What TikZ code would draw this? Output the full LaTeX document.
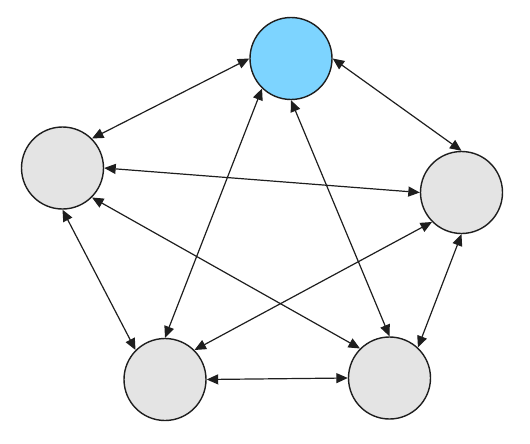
\documentclass[tikz,border=0pt]{standalone}
\usetikzlibrary{arrows.meta}
\definecolor{skyfill}{RGB}{125,212,255}
\definecolor{grayfill}{RGB}{228,228,228}
\definecolor{edgecol}{RGB}{30,30,30}
\begin{document}
\begin{tikzpicture}[x=1pt,y=-1pt,
  vert/.style={circle,draw=edgecol,line width=1.4pt,minimum size=82pt,inner sep=0pt,fill=grayfill},
  link/.style={draw=edgecol,line width=1.2pt,{Triangle[length=11.5pt,width=10pt]}-{Triangle[length=11.5pt,width=10pt]}}]
\useasboundingbox (0,0) rectangle (530,444);
\node[vert,fill=skyfill] (t) at (291,58.5) {};
\node[vert] (l) at (62.5,168) {};
\node[vert] (r) at (461.5,192.5) {};
\node[vert] (bl) at (165,379.5) {};
\node[vert] (br) at (389.5,378) {};
\draw[link] (t.180) -- (l.45);
\draw[link] (t.0) -- (r.90);
\draw[link] (t.226) -- (bl.90);
\draw[link] (t.270) -- (br.90);
\draw[link] (l.0) -- (r.180);
\draw[link] (l.270) -- (bl.135);
\draw[link] (l.315) -- (br.135);
\draw[link] (r.225) -- (bl.45);
\draw[link] (r.270) -- (br.47);
\draw[link] (bl.0) -- (br.180);
\end{tikzpicture}
\end{document}
